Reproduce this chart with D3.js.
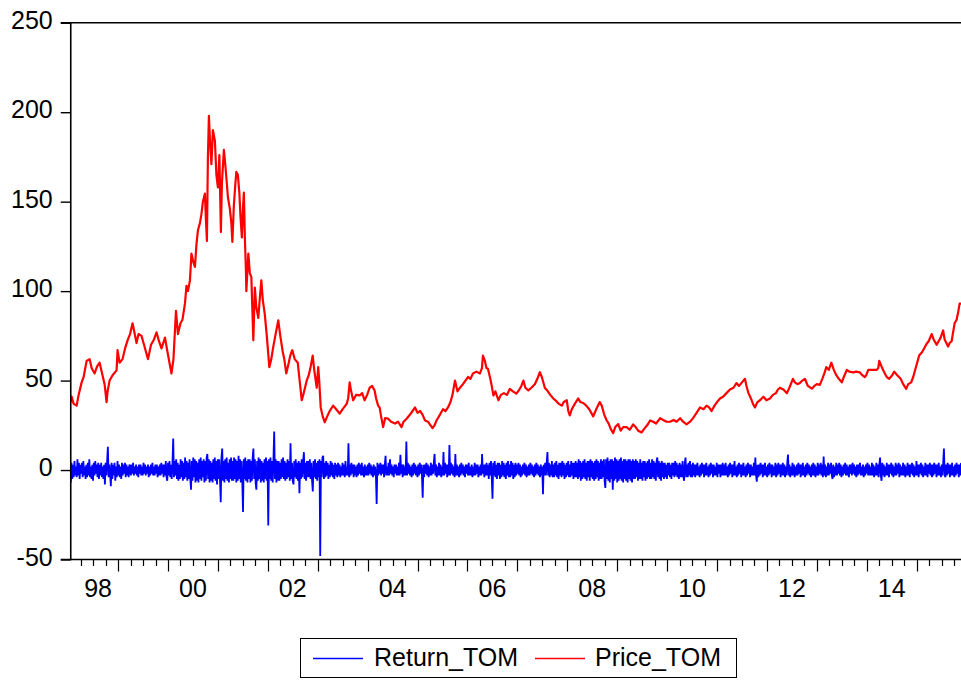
<!DOCTYPE html>
<html>
<head>
<meta charset="utf-8">
<script src="https://cdn.jsdelivr.net/npm/d3@7/dist/d3.min.js"></script>
<style>
  html, body { margin: 0; padding: 0; background: #fff; }
  svg { display: block; }
  text { font-family: "Liberation Sans", Arial, sans-serif; fill: #000; }
</style>
</head>
<body>
<svg id="chart" width="961" height="680"></svg>
<script>
// ---------------- DATA ----------------
const seriesNames = ["Return_TOM", "Price_TOM"];
const seriesColors = ["#0000ff", "#ff0000"];

const yTicks = [-50, 0, 50, 100, 150, 200, 250];
const xLabels = ["98", "00", "02", "04", "06", "08", "10", "12", "14"];
const xLabelDates = [1998.6, 2000.5, 2002.5, 2004.5, 2006.5, 2008.5, 2010.5, 2012.5, 2014.5];

const sampleStart = 1998.052;
const sampleEnd = 2015.888;

// Price_TOM: [decimal year, price]
const pricePoints = [
[1998.05,38],[1998.07,41],[1998.11,37],[1998.17,36],[1998.21,42],[1998.27,49],[1998.31,52],[1998.37,61],[1998.43,62],[1998.47,57],
[1998.53,54],[1998.58,58],[1998.63,60],[1998.68,54],[1998.73,48],[1998.77,38],[1998.79,44],[1998.83,50],[1998.89,53],[1998.97,55.7],
[1998.99,67],[1999.03,60],[1999.09,62],[1999.14,68],[1999.19,72.5],[1999.24,76],[1999.29,82],[1999.32,78],[1999.37,71],[1999.41,76],
[1999.47,75],[1999.52,70],[1999.56,66],[1999.60,62],[1999.66,70],[1999.72,73],[1999.77,77],[1999.82,72],[1999.87,68],[1999.94,74],
[1999.99,66],[2000.03,60],[2000.07,54],[2000.11,62],[2000.16,89],[2000.20,76],[2000.25,82],[2000.29,84],[2000.34,93],[2000.37,103],
[2000.40,100],[2000.44,106],[2000.47,121],[2000.51,116],[2000.54,113.5],[2000.57,126],[2000.60,134],[2000.64,138],[2000.67,143],[2000.70,150],
[2000.74,154.5],[2000.76,140],[2000.78,128],[2000.80,175],[2000.82,198],[2000.84,185],[2000.87,171],[2000.90,190],[2000.94,184],[2000.97,165],
[2001.00,158],[2001.03,176],[2001.06,133],[2001.08,160],[2001.12,179],[2001.15,170],[2001.18,160],[2001.20,152.6],[2001.24,146],[2001.27,138],
[2001.29,127.5],[2001.32,148],[2001.35,160],[2001.37,166.6],[2001.40,165],[2001.43,155],[2001.45,143],[2001.48,130],[2001.50,145],[2001.52,155],
[2001.54,130],[2001.56,113.5],[2001.57,100],[2001.61,121],[2001.64,110],[2001.67,108],[2001.71,72.5],[2001.74,102],[2001.77,91],[2001.81,85],
[2001.84,96],[2001.87,106],[2001.90,95],[2001.94,87],[2001.98,75],[2002.03,57.5],[2002.07,62],[2002.11,69],[2002.15,75],[2002.21,83.7],
[2002.25,75],[2002.30,66],[2002.33,62],[2002.37,54],[2002.42,60],[2002.45,64],[2002.49,67],[2002.54,62],[2002.60,60],[2002.63,52],
[2002.68,39],[2002.71,42],[2002.78,50],[2002.82,53],[2002.86,58],[2002.90,64],[2002.93,56],[2002.98,46],[2003.01,57.5],[2003.03,50],
[2003.06,35],[2003.10,30],[2003.14,26.7],[2003.19,30],[2003.24,33],[2003.31,36],[2003.37,34],[2003.44,31.5],[2003.50,34],[2003.58,37],
[2003.61,40],[2003.64,49],[2003.67,44],[2003.71,39],[2003.77,42],[2003.84,41.7],[2003.89,43],[2003.94,39],[2003.99,42],[2004.04,46],
[2004.09,47],[2004.14,44.5],[2004.17,40],[2004.21,36],[2004.24,35],[2004.27,30],[2004.31,24],[2004.35,29],[2004.41,28.7],[2004.47,27],
[2004.55,26],[2004.61,27],[2004.68,24],[2004.72,27],[2004.78,28.7],[2004.85,31],[2004.90,33],[2004.95,35],[2005.00,32],[2005.05,33],
[2005.10,31],[2005.15,27.7],[2005.21,27],[2005.26,25],[2005.30,23.4],[2005.34,25],[2005.38,27.7],[2005.45,31],[2005.51,34],[2005.56,33],
[2005.61,35],[2005.66,38],[2005.70,42],[2005.75,50],[2005.80,44],[2005.85,46],[2005.91,48],[2005.96,50],[2006.01,52],[2006.06,51],
[2006.11,54],[2006.18,55],[2006.25,54],[2006.29,57],[2006.31,64],[2006.35,61],[2006.38,57],[2006.41,56.6],[2006.45,52],[2006.48,48],
[2006.52,41.7],[2006.56,44],[2006.62,39],[2006.67,42],[2006.73,43],[2006.79,42],[2006.85,45.4],[2006.91,44],[2006.98,42.7],[2007.04,45],
[2007.08,47],[2007.12,50],[2007.16,46],[2007.22,44.5],[2007.28,46],[2007.35,48],[2007.40,51],[2007.45,54.7],[2007.49,52],[2007.55,46],
[2007.61,44],[2007.66,42],[2007.72,40],[2007.78,38.5],[2007.83,37],[2007.89,36],[2007.93,38],[2007.99,39],[2008.02,33],[2008.05,30.5],
[2008.09,34],[2008.15,37],[2008.22,40],[2008.26,38],[2008.32,37.5],[2008.38,36],[2008.44,34],[2008.52,30],[2008.58,34],[2008.65,38],
[2008.69,36],[2008.74,31],[2008.79,27.7],[2008.83,26],[2008.87,23],[2008.92,20.6],[2008.96,24],[2009.02,25.7],[2009.07,22],[2009.12,24],
[2009.19,24],[2009.25,22.5],[2009.32,25.5],[2009.37,24],[2009.42,22],[2009.49,21],[2009.54,23],[2009.60,25],[2009.66,27.7],[2009.72,27],
[2009.78,26],[2009.86,29],[2009.92,28],[2009.99,27],[2010.06,27],[2010.13,28],[2010.19,27],[2010.26,29],[2010.32,27],[2010.39,25.5],
[2010.46,27],[2010.52,29],[2010.59,32],[2010.66,35],[2010.73,34],[2010.79,36],[2010.84,35],[2010.89,33],[2010.95,36],[2011.00,38],
[2011.06,40],[2011.12,41],[2011.19,43],[2011.26,45],[2011.33,46],[2011.39,48.6],[2011.44,47],[2011.50,49],[2011.56,51],[2011.59,47],
[2011.63,43],[2011.68,40],[2011.72,37],[2011.76,35],[2011.81,38],[2011.86,39],[2011.93,41],[2011.99,39],[2012.06,40],[2012.12,42],
[2012.18,43],[2012.22,45],[2012.26,46],[2012.33,45],[2012.40,43],[2012.45,46],[2012.52,51],[2012.56,49],[2012.61,48],[2012.66,48.6],
[2012.71,50],[2012.76,51],[2012.82,47],[2012.90,45.5],[2012.95,47],[2013.00,48],[2013.06,47.6],[2013.11,51],[2013.15,54],[2013.19,57.5],
[2013.24,56],[2013.29,60],[2013.34,56],[2013.39,53],[2013.44,51],[2013.50,49],[2013.54,52],[2013.60,56],[2013.65,55],[2013.73,54.6],
[2013.79,55],[2013.86,54.6],[2013.91,53],[2013.96,52],[2013.99,53],[2014.03,56],[2014.10,56],[2014.20,56],[2014.23,57],[2014.25,61],
[2014.31,57],[2014.35,54.6],[2014.40,52],[2014.45,51],[2014.51,53],[2014.55,55],[2014.61,53],[2014.68,51],[2014.73,48],[2014.79,45.4],
[2014.83,48],[2014.89,49],[2014.93,52],[2014.98,57],[2015.02,61],[2015.05,64],[2015.11,66],[2015.20,70.6],[2015.24,72],[2015.30,76],
[2015.34,73],[2015.40,70],[2015.44,72],[2015.48,74],[2015.53,78],[2015.56,73],[2015.63,69],[2015.66,71],[2015.70,72],[2015.73,77],
[2015.76,82],[2015.80,84],[2015.83,88],[2015.86,93],[2015.89,93]
];

// Return_TOM: evenly spaced observations over the sample
const returnValues = [
-7,4,-5,3,-4,5,-3,2,-4,6,-3,4,-5,3,-2,4,-4,5,-3,2,-5,3,-4,4,-3,6,-4,2,-5,3,-6,4,-3,5,-2,3,-4,4,-5,3,
-3,4,-4,2,-5,3,-8,4,-3,5,13,-4,3,-2,-9,4,-5,3,-3,4,-6,2,-4,5,-3,3,-4,2,-5,4,-3,3,-2,4,-4,3,-3,2,-4,3,
2,-3,3,-2,4,-3,2,-2,3,-3,2,-4,3,-2,3,-3,2,-3,4,-2,3,-3,2,-2,3,-4,2,-3,3,-2,4,-3,2,-3,3,-2,3,-4,2,-3,
3,-3,4,-2,3,-4,3,-3,5,-4,-6,4,-3,5,-4,3,-5,4,17.6,-4,5,-3,6,-5,4,-6,3,-5,6,-4,5,-6,4,-5,7,-4,5,-6,4,-5,
6,-5,-11,5,-6,7,-4,6,-7,5,-6,4,-7,6,-5,7,-6,5,-4,6,-7,5,-6,7,9,-5,6,-7,5,-6,4,-7,6,-5,7,-6,5,-8,6,-5,
6,-5,-18,7,12,-6,5,-7,6,-5,7,-6,4,-7,6,-5,7,-6,5,-6,7,-5,6,-7,5,-6,8,-5,6,-7,5,-6,-23.5,6,-5,7,-6,5,-7,6,
-5,6,-7,5,-6,7,12,-5,6,-7,-11,5,-6,7,-5,6,-7,5,-6,4,-7,6,-5,7,-6,5,-31,6,-5,7,-6,5,-7,6,21.5,-5,6,-7,5,-6,
5,-6,4,-5,6,-4,7,-5,5,-6,4,-5,6,-4,5,-6,15,-5,4,-6,-8,5,-4,6,-5,4,-6,5,-13,4,-5,6,-4,5,10,-5,4,-6,5,-4,
5,-4,6,-5,4,-6,-12,5,-4,6,-5,4,-6,5,-4,6,-48,5,-4,7,8,-5,4,-4,5,-3,4,-5,3,-4,5,-3,4,-4,3,-5,4,-3,3,-4,
4,-3,3,-4,2,-3,4,-3,3,-4,5,-3,2,-3,15,-4,3,-3,4,-2,3,-4,3,-3,2,-4,3,-3,4,-2,3,-3,4,-3,2,-4,3,-3,2,-3,
3,-3,4,-2,3,-3,2,-4,3,-3,2,-3,-19,4,-3,3,-2,4,-3,3,-2,3,-4,3,8,-3,2,-3,4,-3,6,-2,3,-3,2,-4,3,-2,3,-3,
2,-3,4,-3,8.5,-2,3,-4,3,-3,2,-3,16,-3,4,-2,3,-3,2,-4,3,-3,4,-2,3,-3,2,-4,3,-3,4,-2,3,-3,-15.5,3,-4,3,-2,4,
-3,3,-4,2,-3,4,-3,3,-2,4,9,-3,3,-4,2,-3,4,-3,3,-4,2,-3,10,-3,4,-2,3,-4,3,-3,14,-3,4,-2,3,-3,2,-4,9,-3,
3,-3,2,-4,3,-3,4,-2,3,-3,2,-4,3,-2,3,-3,4,-3,2,-3,3,-4,2,-3,4,-3,3,-2,3,-4,2,-3,3,-3,9,-2,3,-4,3,-3,
4,-3,3,-5,4,-3,5,-4,-16,4,-3,5,-4,3,-5,4,-3,4,-5,3,-4,5,-3,4,-4,3,-5,4,-3,5,-4,3,-4,5,-3,4,-5,3,-4,4,
-3,3,-2,4,-3,3,-4,2,-3,3,-2,4,-3,3,-4,2,-3,3,-3,4,-2,3,-3,2,-4,3,-3,4,-2,3,-3,2,-4,3,-3,2,-13.5,3,-3,4,
-3,4,10,-3,4,-4,3,-3,5,-4,3,-4,4,-3,5,-4,3,-5,4,-3,4,-4,5,-3,4,-5,3,-4,4,-3,5,-4,3,-4,5,-3,4,-5,4,-4,
5,-4,4,-5,6,-4,5,-6,4,-5,5,-4,6,-5,4,-6,5,-4,5,-6,6,-4,5,-5,4,-6,5,-5,6,-4,5,-6,4,-5,6,-5,5,-4,6,-6,
-10,6,-5,7,-6,5,-7,6,-5,6,-11,5,-6,7,-5,6,-7,5,-6,6,-5,7,-6,5,-7,6,-5,6,-6,5,-7,6,-5,6,-6,5,-7,6,-5,5,
-5,6,-4,5,-6,4,-5,6,-5,4,-6,5,-4,5,-6,4,-5,5,-4,6,-5,4,-5,6,-4,5,-5,4,-6,5,7,-4,5,-5,4,-6,5,-4,4,-5,
4,-4,3,-5,4,-3,4,-4,3,-5,4,-3,4,-4,5,-3,4,-4,3,-5,4,-4,3,-4,5,-3,-6,4,7,-4,3,-4,4,-3,5,-4,3,-4,4,-3,
3,-4,3,-3,4,-3,2,-4,3,-3,4,-2,3,-4,3,-3,4,-3,2,-4,3,-3,4,-2,3,-4,3,-3,2,-3,4,-4,3,-2,3,-4,3,-3,4,-3,
3,-3,4,-3,2,-4,3,-3,4,-2,3,-4,3,-3,5,-3,2,-4,3,-3,4,-2,3,-4,3,-3,4,-3,2,-4,3,-3,4,-2,3,-4,3,-3,2,-3,
4,-3,7,-3,-6.5,3,-4,3,-3,4,-2,3,-4,3,-3,4,-3,2,-4,3,-3,4,-2,3,-4,3,-3,2,-3,4,-4,3,-3,4,-2,3,-4,3,-3,4,
-3,3,-4,2,-3,4,8.6,-3,3,-4,2,-3,4,-3,3,-4,2,-3,3,-3,4,-2,3,-4,3,-3,4,-3,2,-4,3,-3,4,-2,3,-3,2,-4,3,-3,
4,-3,3,-4,2,-3,4,-3,3,-2,4,-3,3,-4,7.5,-3,3,-4,2,-3,4,-3,3,-2,4,-3,-5,3,-4,2,-3,4,-3,3,-2,4,-3,3,-4,2,
-3,3,-2,4,-3,3,-3,2,-4,3,-2,3,-3,4,-2,3,-3,2,-4,3,-3,3,-2,4,-3,2,-3,3,-4,2,-3,3,-2,4,-3,3,-3,2,-3,4,
-3,3,-4,2,-3,4,-3,3,-4,3,7,-3,-6,4,-3,3,-4,2,-3,4,-3,3,-4,3,-2,4,-3,3,-4,2,-3,4,-3,3,-2,4,-4,3,-3,2,
-3,4,-3,3,-4,2,-3,4,-3,3,-4,3,-2,4,-3,3,-4,2,-3,5,-3,3,-4,3,-2,4,-3,3,-4,2,-3,4,-3,3,-4,3,-2,4,-3,3,
-4,3,-3,4,-2,3,-4,3,-3,4,-3,2,-4,3,-3,4,12,-3,-4,3,-3,4,-2,3,-4,3,-3,4,-3,2,-4,3,-3,4,-2,3,-4,3,-3,4
];

// ---------------- CHART ----------------
const W = 961, H = 680;
const plot = { left: 70.75, right: 961, top: 22.75, bottom: 559.5 };
const svg = d3.select("#chart");

const x = d3.scaleLinear().domain([sampleStart, sampleEnd]).range([plot.left, plot.right]);
const y = d3.scaleLinear().domain([-50, 250]).range([plot.bottom, plot.top]);

const returnPoints = returnValues.map((v, i) => [
  sampleStart + (sampleEnd - sampleStart) * i / (returnValues.length - 1), v
]);

svg.append("defs").append("clipPath").attr("id", "clip")
  .append("rect").attr("x", plot.left).attr("y", plot.top)
  .attr("width", plot.right - plot.left).attr("height", plot.bottom - plot.top);

const line = d3.line().x(d => x(d[0])).y(d => y(d[1]));

const g = svg.append("g").attr("clip-path", "url(#clip)");
g.append("path").datum(returnPoints)
  .attr("d", line).attr("fill", "none")
  .attr("stroke", seriesColors[0]).attr("stroke-width", 1.8)
  .attr("stroke-linejoin", "miter").attr("stroke-miterlimit", 2);
g.append("path").datum(pricePoints)
  .attr("d", line).attr("fill", "none")
  .attr("stroke", seriesColors[1]).attr("stroke-width", 2.2)
  .attr("stroke-linejoin", "round");

// Y axis
const yAxis = d3.axisLeft(y).tickValues(yTicks).tickSize(10).tickPadding(8).tickFormat(d => String(d));
const ya = svg.append("g").attr("transform", `translate(${plot.left},0)`).call(yAxis);
ya.select(".domain").attr("stroke", "#000").attr("stroke-width", 1.6)
  .attr("d", `M-10,${plot.bottom}H0V${plot.top}`);
ya.selectAll(".tick line").attr("stroke", "#000").attr("stroke-width", 1.4);
ya.selectAll(".tick text").attr("font-size", 25)
  .attr("font-family", "Liberation Sans, Arial, sans-serif").attr("dy", "0.22em");

// top border line
svg.append("line").attr("x1", plot.left - 10).attr("x2", plot.right)
  .attr("y1", y(250)).attr("y2", y(250)).attr("stroke", "#000").attr("stroke-width", 1.6);

// X axis: quarterly minor ticks, yearly major ticks
const quarterTicks = d3.range(Math.ceil(sampleStart * 4), Math.floor(sampleEnd * 4) + 1).map(q => q / 4)
  .filter(t => x(t) > plot.left + 3);
const xa = svg.append("g");
xa.append("line").attr("x1", plot.left).attr("x2", plot.right)
  .attr("y1", plot.bottom).attr("y2", plot.bottom).attr("stroke", "#000").attr("stroke-width", 1.6);
xa.selectAll("line.tick").data(quarterTicks).join("line")
  .attr("class", "tick")
  .attr("x1", d => Math.round(x(d)) + 0.5).attr("x2", d => Math.round(x(d)) + 0.5)
  .attr("y1", plot.bottom)
  .attr("y2", d => plot.bottom + (Math.abs(d - Math.round(d)) < 1e-6 ? 12 : 6.5))
  .attr("stroke", "#000").attr("stroke-width", 1.2);
xa.selectAll("text").data(xLabels).join("text")
  .attr("x", (d, i) => x(xLabelDates[i]))
  .attr("y", 597)
  .attr("text-anchor", "middle").attr("font-size", 25)
  .text(d => d);

// Legend
const lg = svg.append("g");
lg.append("rect").attr("x", 300.5).attr("y", 638.5).attr("width", 436).attr("height", 39)
  .attr("fill", "#fff").attr("stroke", "#000").attr("stroke-width", 1);
const legendItems = [
  { name: seriesNames[0], color: seriesColors[0], x0: 313, tx: 374 },
  { name: seriesNames[1], color: seriesColors[1], x0: 535, tx: 595 }
];
legendItems.forEach(it => {
  lg.append("line").attr("x1", it.x0).attr("x2", it.x0 + 50)
    .attr("y1", 658.5).attr("y2", 658.5).attr("stroke", it.color).attr("stroke-width", 1.5);
  lg.append("text").attr("x", it.tx).attr("y", 666).attr("font-size", 25).text(it.name);
});
</script>
</body>
</html>
